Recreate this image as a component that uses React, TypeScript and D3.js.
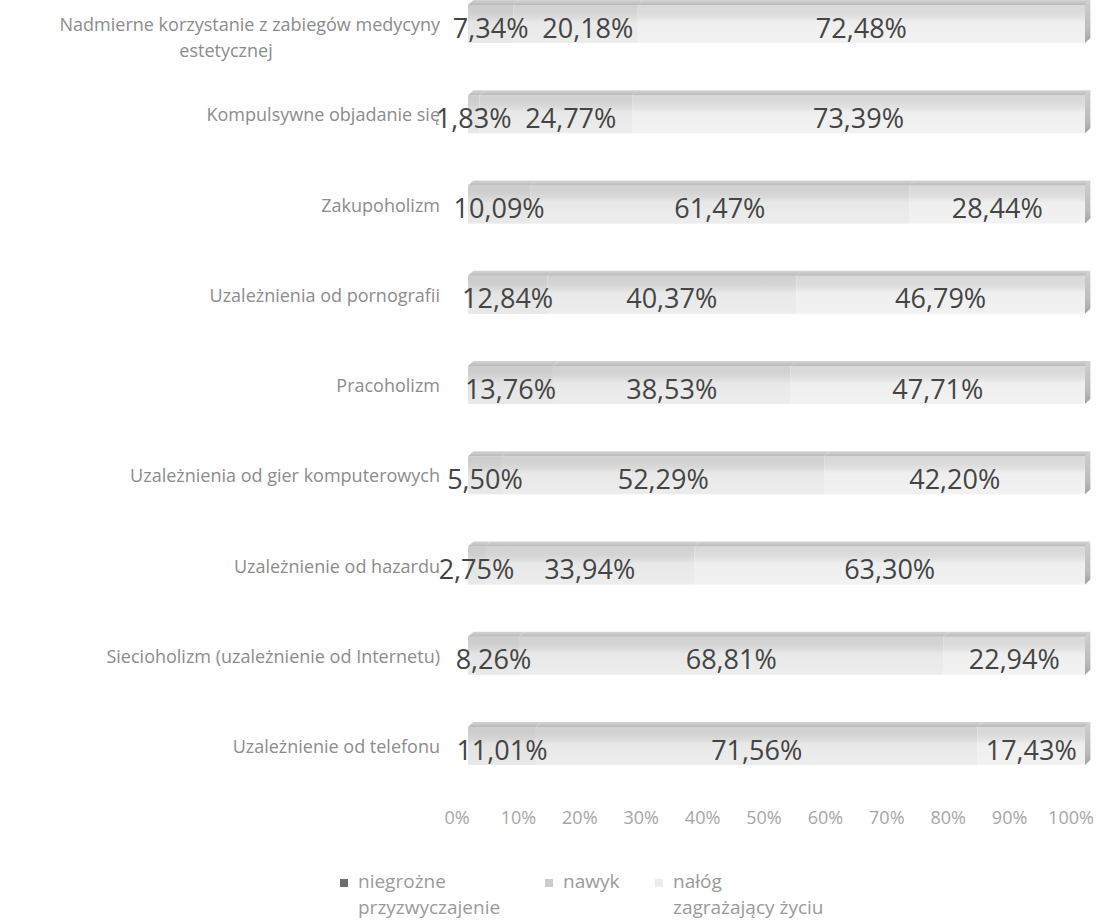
import React from "react";
import * as d3 from "d3";

const categories = [
  "Nadmierne korzystanie z zabiegów medycyny|estetycznej",
  "Kompulsywne objadanie się",
  "Zakupoholizm",
  "Uzależnienia od pornografii",
  "Pracoholizm",
  "Uzależnienia od gier komputerowych",
  "Uzależnienie od hazardu",
  "Siecioholizm (uzależnienie od Internetu)",
  "Uzależnienie od telefonu",
];
const niegrozne = [7.34, 1.83, 10.09, 12.84, 13.76, 5.5, 2.75, 8.26, 11.01];
const nawyk = [20.18, 24.77, 61.47, 40.37, 38.53, 52.29, 33.94, 68.81, 71.56];
const nalog = [72.48, 73.39, 28.44, 46.79, 47.71, 42.2, 63.3, 22.94, 17.43];
const seriesNames = ["niegrożne|przyzwyczajenie", "nawyk", "nałóg|zagrażający życiu"];
const tickValues = [0, 10, 20, 30, 40, 50, 60, 70, 80, 90, 100];

const W = 1103;
const H = 920;
const segFill = ["#dddddd", "#e3e3e3", "#ebebeb"];
const legendFill = ["#6e6e6e", "#cccccc", "#ececec"];

const fmt = (v: number) => v.toFixed(2).replace(".", ",") + "%";

export default function App() {
  const x = d3.scaleLinear().domain([0, 100]).range([468, 1085]);
  const xTick = d3.scaleLinear().domain([0, 100]).range([457, 1071]);
  const y = d3
    .scalePoint<number>()
    .domain(d3.range(categories.length))
    .range([27, 749]);
  const rows = categories.map((c, i) => ({ c, vals: [niegrozne[i], nawyk[i], nalog[i]] }));
  const stack = d3
    .stack<any>()
    .keys(["a", "b", "c"])(rows.map((r) => ({ a: r.vals[0], b: r.vals[1], c: r.vals[2] })));
  const font = "'Open Sans', 'Liberation Sans', sans-serif";
  const labelSize = 27;
  const charW = (s: string) => s.length * labelSize * 0.56;
  const top = -22;
  const bottom = 16;
  const depth = 5;
  const side = 9;

  return (
    <svg width={W} height={H} style={{ position: "absolute", left: 0, top: 0, background: "#fff" }}>
      <defs>
        <linearGradient id="front" x1="0" y1="0" x2="0" y2="1">
          <stop offset="0" stopColor="#000" stopOpacity="0.07" />
          <stop offset="0.45" stopColor="#fff" stopOpacity="0.2" />
          <stop offset="1" stopColor="#fff" stopOpacity="0.35" />
        </linearGradient>
        <linearGradient id="topface" x1="0" y1="0" x2="0" y2="1">
          <stop offset="0" stopColor="#d4d4d4" />
          <stop offset="1" stopColor="#b9b9b9" />
        </linearGradient>
        <linearGradient id="sideface" x1="0" y1="0" x2="0" y2="1">
          <stop offset="0" stopColor="#cfcfcf" />
          <stop offset="0.7" stopColor="#bbbbbb" />
          <stop offset="1" stopColor="#a0a0a0" />
        </linearGradient>
      </defs>
      {rows.map((r, i) => {
        const yc = y(i) as number;
        // label centres with simple overlap avoidance (left to right)
        let prevRight = -Infinity;
        const labelX = stack.map((s, k) => {
          const w = charW(fmt(r.vals[k]));
          let cx = (x(s[i][0]) + x(s[i][1])) / 2;
          if (cx - w / 2 < prevRight + 14) cx = prevRight + 14 + w / 2;
          prevRight = cx + w / 2;
          return cx;
        });
        return (
          <g key={i}>
            {stack.map((s, k) => {
              const x0 = x(s[i][0]);
              const x1 = x(s[i][1]);
              return (
                <g key={k}>
                  <rect x={x0} y={yc + top} width={x1 - x0} height={bottom - top} fill={segFill[k]} />
                  <rect x={x0} y={yc + top} width={x1 - x0} height={bottom - top} fill="url(#front)" />
                  <path
                    d={`M${x0},${yc + top} L${x0 + side * 0.6},${yc + top - depth} L${x1 + side * 0.6},${yc + top - depth} L${x1},${yc + top} Z`}
                    fill="url(#topface)"
                  />
                </g>
              );
            })}
            <path
              d={`M${x(100)},${yc + top} L${x(100) + side * 0.6},${yc + top - depth} L${x(100) + side * 0.6},${yc + bottom - depth} L${x(100)},${yc + bottom} Z`}
              fill="url(#sideface)"
            />
            {stack.map((s, k) => (
              <text
                key={"l" + k}
                x={labelX[k]}
                y={yc}
                textAnchor="middle"
                dominantBaseline="central"
                fontFamily={font}
                fontSize={labelSize}
                fill="#444"
              >
                {fmt(r.vals[k])}
              </text>
            ))}
            {r.c.split("|").map((line, li) =>
              li === 0 ? (
                <text
                  key={"c" + li}
                  x={440}
                  y={yc - 3}
                  textAnchor="end"
                  dominantBaseline="central"
                  fontFamily={font}
                  fontSize={18}
                  fill="#8c8c8c"
                >
                  {line}
                </text>
              ) : (
                <text
                  key={"c" + li}
                  x={226}
                  y={yc + 23}
                  textAnchor="middle"
                  dominantBaseline="central"
                  fontFamily={font}
                  fontSize={18}
                  fill="#8c8c8c"
                >
                  {line}
                </text>
              )
            )}
          </g>
        );
      })}
      {tickValues.map((t) => (
        <text
          key={t}
          x={xTick(t)}
          y={817}
          textAnchor="middle"
          dominantBaseline="central"
          fontFamily={font}
          fontSize={18}
          fill="#a6a6a6"
        >
          {t + "%"}
        </text>
      ))}
      {seriesNames.map((n, k) => {
        const lx = [340, 545, 655][k];
        return (
          <g key={n}>
            <rect x={lx} y={879} width={8} height={8} fill={legendFill[k]} />
            {n.split("|").map((line, li) => (
              <text
                key={li}
                x={lx + 18}
                y={881 + li * 26}
                dominantBaseline="central"
                fontFamily={font}
                fontSize={19}
                fill="#9a9a9a"
              >
                {line}
              </text>
            ))}
          </g>
        );
      })}
    </svg>
  );
}
